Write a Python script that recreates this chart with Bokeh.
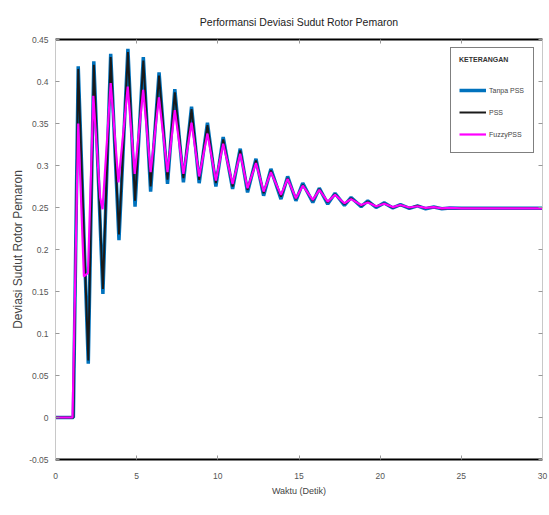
from bokeh.plotting import figure
from bokeh.models import Range1d, LinearAxis, FixedTicker, CustomJSTickFormatter
from bokeh.embed import file_html
from bokeh.resources import INLINE

# ---- data ----
x_ticks = [0, 5, 10, 15, 20, 25, 30]
y_ticks = [-0.05, 0, 0.05, 0.1, 0.15, 0.2, 0.25, 0.3, 0.35, 0.4, 0.45]

t_tanpa = [0, 1.1, 1.4, 2.02, 2.36, 2.92, 3.40, 3.91, 4.46, 4.90, 5.41, 5.86, 6.38, 6.90,
           7.35, 7.88, 8.38, 8.85, 9.36, 9.88, 10.33, 10.91, 11.38, 11.83, 12.35, 12.82,
           13.27, 13.89, 14.30, 14.81, 15.23, 15.85, 16.25, 16.77, 17.22, 17.80, 18.21,
           18.83, 19.24, 19.75, 20.25, 20.78, 21.25, 21.8, 22.3, 22.8, 23.3, 23.8, 24.3, 25, 30]
y_tanpa = [0, 0, 0.418, 0.064, 0.424, 0.147, 0.433, 0.211, 0.439, 0.251, 0.429, 0.269,
           0.411, 0.278, 0.391, 0.280, 0.370, 0.279, 0.351, 0.275, 0.334, 0.272, 0.320,
           0.268, 0.308, 0.264, 0.296, 0.260, 0.287, 0.258, 0.279, 0.256, 0.273, 0.254,
           0.267, 0.2525, 0.262, 0.251, 0.258, 0.250, 0.2555, 0.2495, 0.2535, 0.249,
           0.252, 0.2485, 0.2505, 0.2485, 0.2495, 0.249, 0.249]

t_pss = t_tanpa
y_pss = [0, 0, 0.415, 0.068, 0.420, 0.153, 0.429, 0.218, 0.435, 0.258, 0.425, 0.275,
         0.407, 0.283, 0.387, 0.285, 0.367, 0.283, 0.348, 0.279, 0.331, 0.275, 0.318,
         0.271, 0.306, 0.267, 0.294, 0.263, 0.285, 0.260, 0.277, 0.258, 0.272, 0.256,
         0.266, 0.254, 0.261, 0.252, 0.257, 0.251, 0.255, 0.250, 0.253, 0.2495,
         0.252, 0.249, 0.2505, 0.2485, 0.2495, 0.249, 0.249]

t_fuzzy = [0, 1.05, 1.4, 1.75, 2.0, 2.33, 2.75, 2.9, 3.4, 3.88, 4.45, 4.88, 5.4, 5.86,
           6.37, 6.9, 7.35, 7.88, 8.38, 8.85, 9.36, 9.88, 10.33, 10.91, 11.38, 11.83,
           12.35, 12.82, 13.27, 13.89, 14.30, 14.81, 15.23, 15.85, 16.25, 16.77, 17.22,
           17.80, 18.21, 18.83, 19.24, 19.75, 20.25, 20.78, 21.25, 21.8, 22.3, 22.8,
           23.3, 23.8, 24.3, 25, 30]
y_fuzzy = [0, 0, 0.350, 0.168, 0.172, 0.383, 0.262, 0.248, 0.398, 0.280, 0.394, 0.290,
           0.390, 0.292, 0.381, 0.292, 0.366, 0.290, 0.351, 0.287, 0.338, 0.282, 0.326,
           0.278, 0.314, 0.273, 0.303, 0.269, 0.292, 0.265, 0.284, 0.261, 0.276, 0.259,
           0.271, 0.257, 0.265, 0.255, 0.260, 0.253, 0.256, 0.2515, 0.2545, 0.2505,
           0.253, 0.250, 0.2515, 0.2495, 0.2505, 0.249, 0.2495, 0.249, 0.249]

FONT = "Liberation Sans"

p = figure(width=549, height=515, output_backend="svg", toolbar_location=None,
           x_range=Range1d(0, 30), y_range=Range1d(-0.05, 0.45),
           title="Performansi Deviasi Sudut Rotor Pemaron",
           min_border_left=55, min_border_right=7, min_border_top=39, min_border_bottom=56,
           background_fill_color="white", border_fill_color="white")
p.outline_line_color = None
p.grid.visible = False

p.title.align = "center"
p.title.text_font = FONT
p.title.text_font_size = "10.5px"
p.title.text_font_style = "normal"
p.title.text_color = "#222222"
p.title.standoff = 23

fmt = CustomJSTickFormatter(code="return String(Number(tick.toFixed(2)));")

xa = p.xaxis[0]
xa.ticker = FixedTicker(ticks=x_ticks)
xa.formatter = fmt
xa.axis_label = "Waktu (Detik)"
ya = p.yaxis[0]
ya.ticker = FixedTicker(ticks=y_ticks)
ya.formatter = fmt
ya.axis_label = "Deviasi Sudut Rotor Pemaron"

for ax in (xa, ya):
    ax.major_tick_in = 4
    ax.major_tick_out = 0
    ax.minor_tick_in = 0
    ax.minor_tick_out = 0
    ax.major_tick_line_color = "#999999"
    ax.major_label_text_font = FONT
    ax.major_label_text_font_size = "8.5px"
    ax.major_label_text_color = "#555555"
    ax.axis_label_text_font = FONT
    ax.axis_label_text_font_style = "normal"
    ax.axis_label_text_color = "#444444"

xa.axis_line_color = "black"
xa.axis_line_width = 2
xa.major_label_standoff = 13
xa.axis_label_standoff = 4
xa.axis_label_text_font_size = "9px"

ya.axis_line_color = "#c8c8c8"
ya.axis_line_width = 1
ya.major_label_standoff = 7
ya.axis_label_standoff = 1
ya.axis_label_text_font_size = "12px"

top = LinearAxis(ticker=FixedTicker(ticks=x_ticks), major_label_text_font_size="1px",
                 major_label_text_color=None,
                 major_tick_in=4, major_tick_out=0, minor_tick_in=0, minor_tick_out=0,
                 major_tick_line_color="#999999", axis_line_color="black", axis_line_width=2,
                 major_label_standoff=0)
right = LinearAxis(ticker=FixedTicker(ticks=y_ticks), major_label_text_font_size="1px",
                   major_label_text_color=None,
                   major_tick_in=4, major_tick_out=0, minor_tick_in=0, minor_tick_out=0,
                   major_tick_line_color="#999999", axis_line_color="#c8c8c8", axis_line_width=1,
                   major_label_standoff=0)
p.add_layout(top, "above")
p.add_layout(right, "right")

p.line(t_tanpa, y_tanpa, line_color="#0072BD", line_width=3.5, legend_label="Tanpa PSS")
p.line(t_pss, y_pss, line_color="#1a1a1a", line_width=2, legend_label="PSS")
p.line(t_fuzzy, y_fuzzy, line_color="#FF00FF", line_width=2.2, legend_label="FuzzyPSS")

lg = p.legend[0]
lg.title = "KETERANGAN"
lg.title_text_font = FONT
lg.title_text_font_size = "7px"
lg.title_text_font_style = "bold"
lg.title_text_color = "#333333"
lg.title_standoff = 17
lg.location = "top_right"
lg.margin = 8
lg.padding = 8
lg.spacing = 2
lg.label_height = 20
lg.glyph_height = 20
lg.glyph_width = 27
lg.label_width = 36
lg.label_standoff = 3
lg.label_text_font = FONT
lg.label_text_font_size = "7px"
lg.label_text_color = "#444444"
lg.border_line_color = "black"
lg.border_line_width = 1
lg.background_fill_color = "white"
lg.background_fill_alpha = 1.0

open("out.html", "w").write(file_html(p, INLINE))
